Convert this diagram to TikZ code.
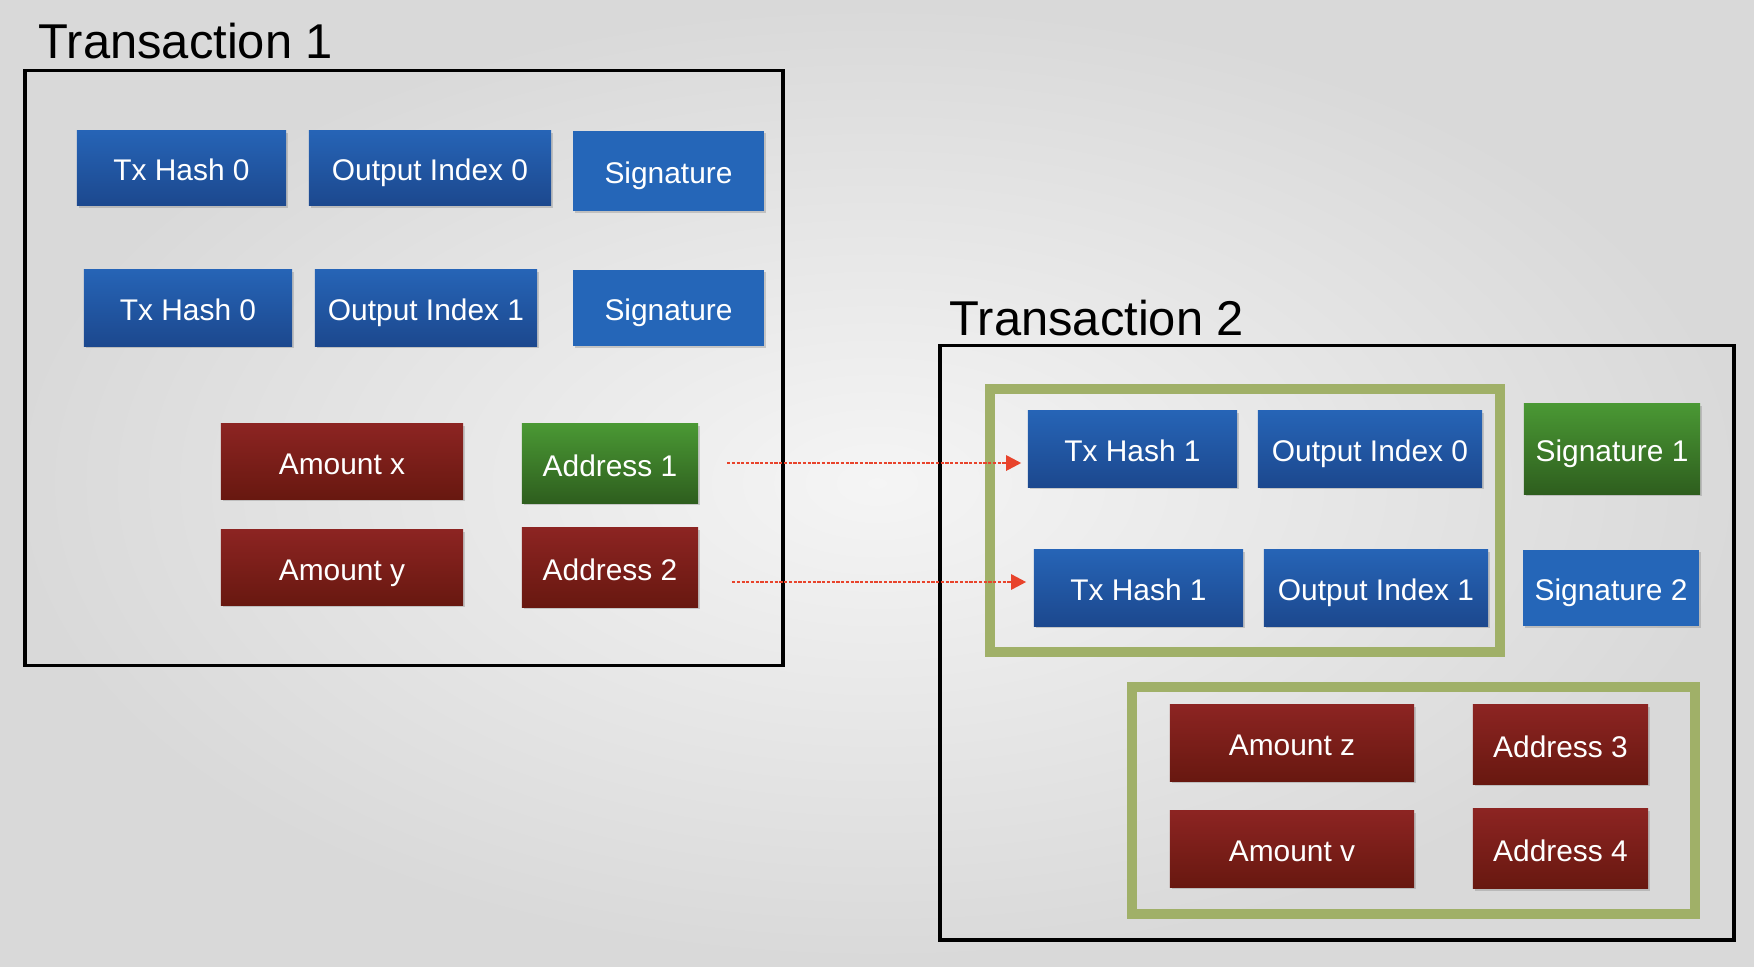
\documentclass[tikz,border=0pt]{standalone}
\usepackage{fontspec}
\setmainfont{Liberation Sans}
\usetikzlibrary{shadows,arrows.meta}

\definecolor{bluetop}{RGB}{38,100,182}
\definecolor{bluebot}{RGB}{28,72,142}
\definecolor{sigblue}{RGB}{37,102,184}
\definecolor{redtop}{RGB}{140,36,34}
\definecolor{redbot}{RGB}{104,24,16}
\definecolor{greentop}{RGB}{74,152,52}
\definecolor{greenbot}{RGB}{46,94,30}
\definecolor{olive}{RGB}{160,176,104}
\definecolor{linkred}{RGB}{232,67,43}

\tikzset{
	field/.style={text=white, inner sep=0pt, font=\fontsize{8.5}{10}\selectfont,
		text height=0.72em, text depth=0pt,
		drop shadow={opacity=0.35, shadow xshift=0.5pt, shadow yshift=-0.7pt}},
	bluefield/.style={field, top color=bluetop, bottom color=bluebot},
	sigfield/.style={field, fill=sigblue},
	redfield/.style={field, top color=redtop, bottom color=redbot},
	greenfield/.style={field, top color=greentop, bottom color=greenbot},
	txframe/.style={draw=black, line width=0.9pt},
	groupframe/.style={draw=olive, line width=2.85pt},
	title/.style={anchor=base west, inner sep=0pt, font=\fontsize{13.9}{16}\selectfont},
	link/.style={draw=linkred, line width=0.75pt, dash pattern=on 0.9pt off 0.45pt,
		-{Triangle[length=4.3pt,width=4.3pt]}}
}

\begin{document}
\begin{tikzpicture}[x=0.01cm, y=-0.01cm]
		\useasboundingbox (0,0) rectangle (1754,966);
		\shade[inner color=gray!8, outer color=gray!30] (0,0) rectangle (1754,966); % backdrop
		
		% transaction 1
		\node[title] (t1) at (38,58) {Transaction 1};
		\draw[txframe] (25,70.5) rectangle (783,665.5);
		\node[bluefield, minimum width=2.09cm, minimum height=0.75cm] (h0a) at (181.5,168) {Tx Hash 0};
		\node[bluefield, minimum width=2.42cm, minimum height=0.75cm] (o0a) at (430,168) {Output Index 0};
		\node[sigfield, minimum width=1.91cm, minimum height=0.80cm] (siga) at (668.5,171) {Signature};
		\node[bluefield, minimum width=2.08cm, minimum height=0.76cm] (h0b) at (188,308) {Tx Hash 0};
		\node[bluefield, minimum width=2.22cm, minimum height=0.76cm] (o1a) at (426,308) {Output Index 1};
		\node[sigfield, minimum width=1.91cm, minimum height=0.76cm] (sigb) at (668.5,308) {Signature};
		\node[redfield, minimum width=2.42cm, minimum height=0.75cm] (amtx) at (342,461.5) {Amount x};
		\node[greenfield, minimum width=1.76cm, minimum height=0.79cm] (addr1) at (610,463.5) {Address 1};
		\node[redfield, minimum width=2.42cm, minimum height=0.75cm] (amty) at (342,567.5) {Amount y};
		\node[redfield, minimum width=1.76cm, minimum height=0.79cm] (addr2) at (610,567.5) {Address 2};
		
		% transaction 2
		\node[title] (t2) at (949,335) {Transaction 2};
		\draw[txframe] (940,345.5) rectangle (1734,940);
		\draw[groupframe] (990,389) rectangle (1500,652); % inputs
		\draw[groupframe] (1132,687) rectangle (1695,914); % outputs
		\node[bluefield, minimum width=2.09cm, minimum height=0.76cm] (h1a) at (1132.5,449) {Tx Hash 1};
		\node[bluefield, minimum width=2.24cm, minimum height=0.76cm] (o0b) at (1370,449) {Output Index 0};
		\node[greenfield, minimum width=1.76cm, minimum height=0.90cm] (sig1) at (1612,449) {Signature 1};
		\node[bluefield, minimum width=2.09cm, minimum height=0.76cm] (h1b) at (1138.5,588) {Tx Hash 1};
		\node[bluefield, minimum width=2.24cm, minimum height=0.76cm] (o1b) at (1376,588) {Output Index 1};
		\node[sigfield, minimum width=1.76cm, minimum height=0.76cm] (sig2) at (1611,588) {Signature 2};
		\node[redfield, minimum width=2.44cm, minimum height=0.76cm] (amtz) at (1292,743) {Amount z};
		\node[redfield, minimum width=1.75cm, minimum height=0.79cm] (addr3) at (1560.5,744.5) {Address 3};
		\node[redfield, minimum width=2.44cm, minimum height=0.76cm] (amtv) at (1292,849) {Amount v};
		\node[redfield, minimum width=1.75cm, minimum height=0.79cm] (addr4) at (1560.5,848.5) {Address 4};
		
		% spent outputs
		\coordinate (from1) at (727,463);
		\coordinate (from2) at (732,582);
		\draw[link, shorten >=1.7pt] (from1) -- (from1 -| h1a.west);
		\draw[link, shorten >=2pt] (from2) -- (from2 -| h1b.west);
		
	\end{tikzpicture}
\end{document}
